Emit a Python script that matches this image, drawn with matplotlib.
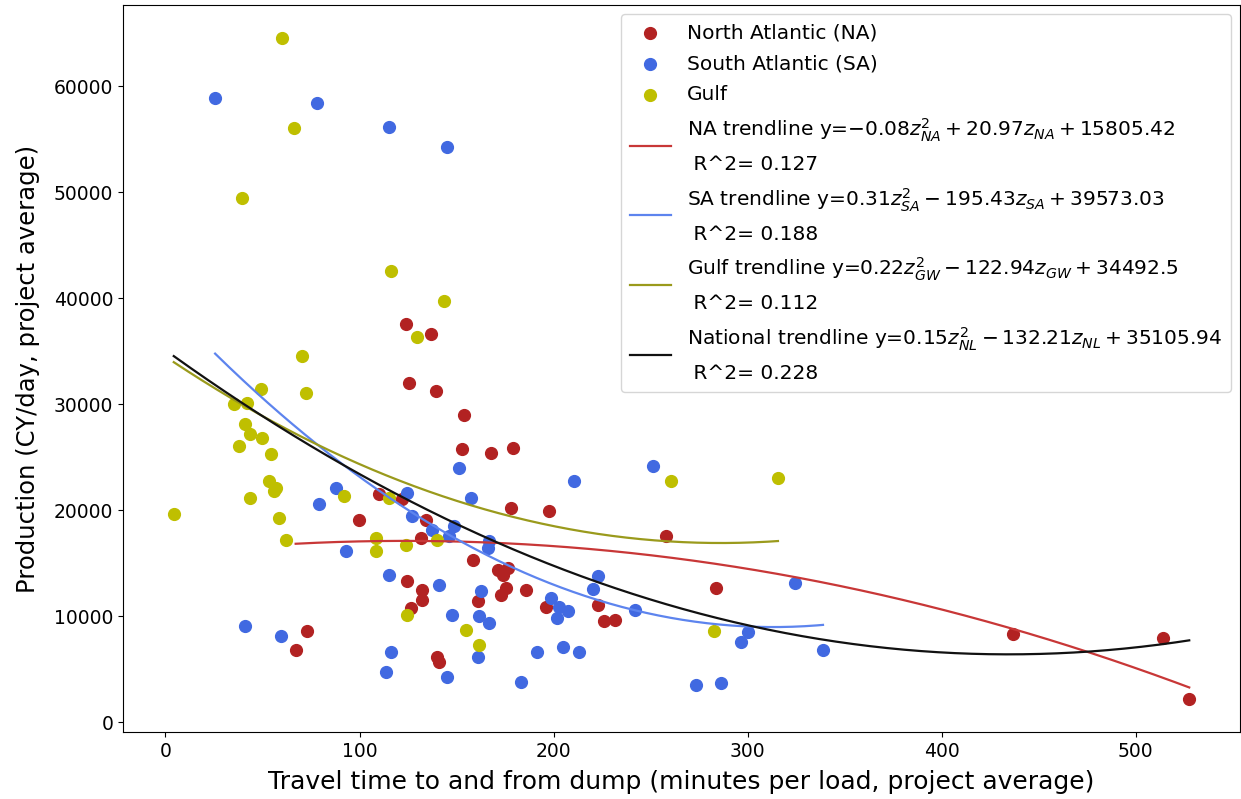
import numpy as np
import matplotlib
matplotlib.use("Agg")
import matplotlib.pyplot as plt

# ---- data ----
na_x = [123.9, 136.8, 125.6, 139.3, 153.9, 153.0, 167.7, 178.9, 110.1, 122.1,
        178.1, 197.8, 99.7, 134.2, 131.6, 158.3, 171.1, 176.3, 173.7, 124.7,
        132.4, 175.4, 172.8, 185.8, 132.4, 160.8, 126.4, 196.1, 222.7, 226.1,
        231.4, 73.1, 67.1, 140.1, 141.0, 258.0, 283.8, 436.8, 514.2, 527.5]
na_y = [37594, 36648, 32041, 31256, 28938, 25741, 25419, 25892, 21484, 21011,
        20216, 19904, 19119, 19119, 17378, 15335, 14389, 14540, 13916, 13282,
        12497, 12648, 12024, 12497, 11551, 11390, 10756, 10851, 11011, 9498,
        9659, 8552, 6821, 6187, 5648, 17567, 12648, 8334, 7918, 2185]

sa_x = [25.6, 78.2, 115.3, 145.3, 151.3, 87.7, 124.7, 157.4, 79.1, 127.2,
        137.5, 148.7, 146.2, 92.9, 166.9, 166.0, 115.3, 141.0, 162.5, 147.9,
        161.6, 166.9, 41.2, 59.4, 116.1, 160.8, 113.5, 145.3, 210.7, 251.1,
        222.7, 220.2, 324.2, 198.7, 202.9, 207.2, 202.0, 241.7, 300.1, 296.6,
        338.8, 191.7, 204.6, 213.2, 183.2, 273.5, 286.4]
sa_y = [58879, 58406, 56202, 54310, 24000, 22108, 21635, 21162, 20538, 19431,
        18173, 18485, 17539, 16120, 17066, 16432, 13916, 12970, 12336, 10132,
        9971, 9337, 9025, 8079, 6660, 6187, 4768, 4295, 22742, 24161,
        13755, 12591, 13121, 11702, 10851, 10444, 9810, 10605, 8486, 7540,
        6821, 6660, 7133, 6660, 3822, 3510, 3661]

gw_x = [60.0, 66.0, 39.4, 116.1, 143.6, 129.8, 70.4, 49.0, 72.3, 35.2,
        42.1, 41.2, 43.8, 49.9, 37.8, 54.2, 53.3, 56.8, 55.9, 92.0,
        43.8, 4.3, 58.5, 115.3, 108.3, 140.1, 123.9, 108.3, 62.0, 124.7,
        154.8, 161.6, 260.6, 315.6, 282.9]
gw_y = [64555, 56041, 49419, 42608, 39770, 36298, 34567, 31417, 31095, 29998,
        30149, 28106, 27160, 26838, 26053, 25268, 22742, 22108, 21796, 21323,
        21162, 19592, 19270, 21162, 17378, 17227, 16754, 16120, 17227, 10132,
        8713, 7294, 22742, 23054, 8552]

nl_x = na_x + sa_x + gw_x

# quadratic trend coefficients (a, b, c) for y = a z^2 + b z + c
na_coef = [-0.0848, 20.97, 15805.42]
sa_coef = [0.312, -195.43, 39573.03]
gw_coef = [0.2148, -122.94, 34492.5]
nl_coef = [0.1522, -132.21, 35105.94]

series_labels = ["North Atlantic (NA)", "South Atlantic (SA)", "Gulf"]
trend_labels = [
    "NA trendline y=$-0.08z_{NA}^2 + 20.97z_{NA} + 15805.42$\n R^2= 0.127",
    "SA trendline y=$0.31z_{SA}^2 - 195.43z_{SA} + 39573.03$\n R^2= 0.188",
    "Gulf trendline y=$0.22z_{GW}^2 - 122.94z_{GW} + 34492.5$\n R^2= 0.112",
    "National trendline y=$0.15z_{NL}^2 - 132.21z_{NL} + 35105.94$\n R^2= 0.228",
]

# ---- plot ----
fig = plt.figure(figsize=(12.41, 7.99), dpi=100)
ax = fig.add_axes([123 / 1241, 1 - 732 / 799, (1240 - 123) / 1241, (732 - 5) / 799])

c_na, c_sa, c_gw = "#b22222", "#4169e1", "#bfbf00"
h1 = ax.scatter(na_x, na_y, s=72, color=c_na, label=series_labels[0], zorder=2)
h2 = ax.scatter(sa_x, sa_y, s=72, color=c_sa, label=series_labels[1], zorder=2)
h3 = ax.scatter(gw_x, gw_y, s=72, color=c_gw, label=series_labels[2], zorder=2)

def trend(xs, coef, color, label):
    z = np.linspace(min(xs), max(xs), 300)
    (ln,) = ax.plot(z, np.polyval(coef, z), color=color, lw=1.6, label=label, zorder=3)
    return ln

l1 = trend(na_x, na_coef, "#c83737", trend_labels[0])
l2 = trend(sa_x, sa_coef, "#5d84ee", trend_labels[1])
l3 = trend(gw_x, gw_coef, "#9a9a1c", trend_labels[2])
l4 = trend(nl_x, nl_coef, "#111111", trend_labels[3])

ax.tick_params(labelsize=13.5)
ax.set_xlabel("Travel time to and from dump (minutes per load, project average)",
              fontsize=18, labelpad=7)
ax.set_ylabel("Production (CY/day, project average)", fontsize=17.5, labelpad=10)

leg = ax.legend(handles=[h1, h2, h3, l1, l2, l3, l4], loc="upper right", fontsize=14.5,
                borderaxespad=0.45, labelspacing=0.6, borderpad=0.45)
for t in leg.get_texts():
    t.set_linespacing(1.75)

fig.savefig("out.png", dpi=100)
